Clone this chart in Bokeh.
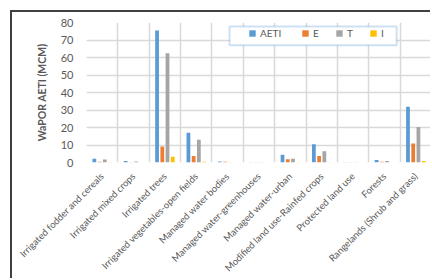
import math
from bokeh.plotting import figure
from bokeh.models import ColumnDataSource, FixedTicker, Legend, LegendItem, Range1d, BoxAnnotation
from bokeh.embed import file_html
from bokeh.resources import INLINE

categories = [
    "Irrigated fodder and cereals",
    "Irrigated mixed crops",
    "Irrigated trees",
    "Irrigated vegetables-open fields",
    "Managed water bodies",
    "Managed water-greenhouses",
    "Managed water-urban",
    "Modified land use-Rainfed crops",
    "Protected land use",
    "Forests",
    "Rangelands (Shrub and grass)",
]
series_names = ["AETI", "E", "T", "I"]
aeti = [2.2, 0.8, 75.5, 17.0, 0.6, 0.2, 4.5, 10.5, 0.2, 1.5, 31.8]
e_vals = [0.5, 0.2, 9.2, 3.7, 0.4, 0.1, 1.9, 3.7, 0.1, 0.4, 10.8]
t_vals = [1.7, 0.6, 62.5, 13.0, 0.2, 0.1, 2.2, 6.5, 0.1, 0.9, 20.3]
i_vals = [0.1, 0.0, 3.3, 0.4, 0.0, 0.0, 0.1, 0.2, 0.0, 0.0, 0.8]
y_ticks = [0, 10, 20, 30, 40, 50, 60, 70, 80]
colors = ["#5b9bd5", "#ed7d31", "#a5a5a5", "#ffc000"]

n = len(categories)
p = figure(width=420, height=268, output_backend="svg", toolbar_location=None,
           x_range=Range1d(0, n), y_range=Range1d(0, 80),
           min_border_left=74, min_border_right=1, min_border_top=10, min_border_bottom=110)
p.styles = {"margin-left": "10px", "margin-top": "10px",
            "border-left": "2px solid #404040", "border-top": "2px solid #404040"}
p.outline_line_color = None
p.background_fill_color = "white"
p.border_fill_color = "white"

series = [aeti, e_vals, t_vals, i_vals]
offsets = [-0.25, -0.083, 0.083, 0.25]
items = []
nan = float("nan")
for name, vals, off, col in zip(series_names, series, offsets, colors):
    src = ColumnDataSource(dict(x=[i + 0.5 + off for i in range(n)], top=vals))
    p.vbar(x="x", top="top", bottom=0, width=0.12, source=src,
           fill_color=col, line_color=None)
    swatch = p.quad(left=[nan], right=[nan], top=[nan], bottom=[nan],
                    fill_color=col, line_color=None)
    items.append(LegendItem(label=name, renderers=[swatch]))

p.xaxis.ticker = FixedTicker(ticks=[i + 0.5 for i in range(n)])
p.xaxis.major_label_overrides = {i + 0.5: c for i, c in enumerate(categories)}
p.xaxis.major_label_orientation = math.pi / 4
p.xaxis.major_label_text_font = "Lato"
p.xaxis.major_label_text_font_size = "9.5px"
p.xaxis.major_label_text_color = "#595959"
p.xaxis.axis_line_color = None
p.xaxis.major_tick_line_color = None
p.xaxis.minor_tick_line_color = None
p.xaxis.major_label_standoff = 6

p.yaxis.ticker = FixedTicker(ticks=y_ticks)
p.yaxis.axis_label = "WaPOR AETI (MCM)"
p.yaxis.axis_label_text_font = "Lato"
p.yaxis.axis_label_text_font_style = "bold"
p.yaxis.axis_label_text_font_size = "10.5px"
p.yaxis.axis_label_text_color = "#595959"
p.yaxis.axis_label_standoff = 10
p.yaxis.major_label_text_font = "Lato"
p.yaxis.major_label_text_font_size = "11px"
p.yaxis.major_label_text_color = "#595959"
p.yaxis.axis_line_color = None
p.yaxis.major_tick_line_color = None
p.yaxis.minor_tick_line_color = None
p.yaxis.major_label_standoff = 7

p.xgrid.ticker = FixedTicker(ticks=list(range(n + 1)))
p.xgrid.grid_line_color = "#d9d9d9"
p.xgrid.grid_line_width = 1.5
p.ygrid.ticker = FixedTicker(ticks=y_ticks)
p.ygrid.grid_line_color = "#d9d9d9"
p.ygrid.grid_line_width = 1.5

box = BoxAnnotation(left=4.56, right=9.89, top=77.7, bottom=67.0,
                    fill_color="white", fill_alpha=1,
                    line_color="#5b9bd5", line_width=2)
p.add_layout(box)


def make_legend(its, loc):
    lg = Legend(items=its, orientation="horizontal", location=loc)
    lg.border_line_color = None
    lg.background_fill_alpha = 0
    lg.label_text_font = "Lato"
    lg.label_text_font_size = "10px"
    lg.label_text_color = "#595959"
    lg.glyph_width = 8
    lg.glyph_height = 8
    lg.spacing = 16
    lg.padding = 0
    lg.margin = 0
    lg.label_standoff = 4
    lg.label_height = 10
    lg.label_width = 6
    return lg


p.add_layout(make_legend(items[:1], (162, 123)))
p.add_layout(make_legend(items[1:], (215, 123)))

html = file_html(p, INLINE)
html = html.replace("<body>", '<body style="background:#e4e4e4">', 1)
open("out.html", "w").write(html)
